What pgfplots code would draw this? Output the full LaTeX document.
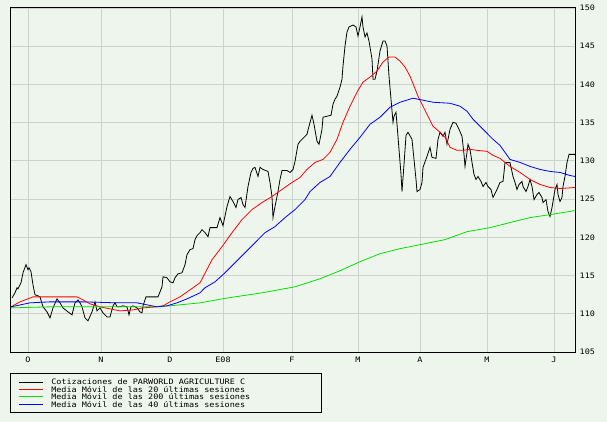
\documentclass[border=0pt]{standalone}
\usepackage{fontspec}
\usepackage{pgfplots}
\pgfplotsset{compat=1.18}
\newfontfamily\chartfont[FakeStretch=1.13]{DejaVu Sans Mono}
\definecolor{bgc}{RGB}{238,245,236}
\definecolor{gridc}{RGB}{206,210,206}
\definecolor{mared}{RGB}{255,0,0}
\definecolor{magreen}{RGB}{0,225,0}
\definecolor{mablue}{RGB}{0,0,255}

\begin{document}
\begin{tikzpicture}
\fill[bgc] (0,0) rectangle (607bp,422bp);
\useasboundingbox (0,0) rectangle (607bp,422bp);
\begin{axis}[
    at={(10bp,70bp)}, anchor=south west,
    scale only axis, width=565bp, height=344bp,
    xmin=10, xmax=575, ymin=105, ymax=150,
    font=\chartfont\fontsize{7.5bp}{8bp}\selectfont,
    /pgf/number format/assume math mode=true,
    axis line style={line width=1bp},
    major tick length=0pt,
    grid=major, major grid style={gridc, line width=0.8bp},
    xtick={28,101,170,223,292,358,420,487,554},
    xticklabels={O,N,D,E08,F,M,A,M,J},
    xticklabel style={anchor=base, inner sep=0pt, yshift=-10.7bp},
    ytick={105,110,...,150},
    yticklabel pos=right,
    yticklabel style={anchor=west, inner sep=0pt, xshift=4.5bp},
    legend style={at={(axis description cs:0,0)}, anchor=north west,
        yshift=-21bp, draw=black, line width=0.9bp, fill=none,
        inner xsep=8bp, inner ysep=5bp, row sep=0.87bp, column sep=8bp,
        nodes={inner sep=0pt, text height=6.3bp, text depth=0.3bp, anchor=base west},
        font=\chartfont\fontsize{7.5bp}{8bp}\selectfont},
    legend cell align=left,
    legend image code/.code={\draw[#1] (0bp,2.8bp) -- (24bp,2.8bp);},
]

% cotizacion
\addplot[black, line width=0.8bp] coordinates {
(12,112.08) (15,112.74) (17,113.40) (18,113.26) (21,114.05) (23,115.36)
(26,116.42) (28,115.76) (29,116.02) (31,115.50) (33,113.79) (35,112.48)
(38,112.35) (40,112.21) (43,110.91) (47,110.25) (50,109.46) (53,110.77)
(57,111.95) (60,111.43) (63,110.77) (68,110.25) (72,109.86) (75,111.43)
(78,111.82) (80,111.43) (82,110.91) (85,109.46) (88,109.07) (92,110.25)
(95,111.56) (97,110.38) (100,110.77) (103,110.12) (107,109.59) (110,109.59)
(113,111.04) (115,111.43) (117,110.91) (120,110.91) (123,111.04) (127,110.91)
(129,109.86) (131,110.91) (133,111.04) (137,110.77) (140,110.25) (142,110.12)
(143,111.04) (146,112.21) (150,112.21) (158,112.21) (162,113.53) (163,114.84)
(167,114.71) (170,114.18) (173,114.05) (175,114.71) (178,115.23) (182,115.36)
(185,116.42) (187,117.73) (190,118.39) (193,118.52) (195,119.70) (197,120.22)
(200,120.61) (202,121.01) (205,120.61) (208,120.09) (210,121.27) (217,121.27)
(220,122.58) (223,121.53) (227,124.03) (230,125.34) (233,124.68) (236,123.90)
(238,124.94) (241,125.21) (243,124.29) (245,123.90) (248,126.65) (251,128.49)
(253,129.02) (255,129.15) (258,127.96) (260,129.15) (263,128.88) (268,128.62)
(270,127.18) (272,125.34) (273,122.58) (275,124.03) (278,125.99) (280,127.57)
(282,128.75) (287,128.75) (290,128.49) (293,128.88) (295,129.93) (298,132.17)
(300,132.56) (302,132.82) (305,133.21) (307,133.48) (309,134.53) (312,135.97)
(314,134.79) (317,132.56) (319,132.17) (322,134.13) (323,135.71) (327,135.84)
(331,135.97) (333,137.41) (335,138.07) (337,138.46) (340,139.64) (342,140.69)
(343,142.40) (345,145.03) (347,146.86) (349,147.52) (353,147.78) (356,147.52)
(358,146.34) (360,147.52) (362,148.83) (363,147.52) (365,146.21) (367,146.73)
(369,145.68) (372,143.32) (373,140.69) (375,140.69) (377,141.75) (380,144.37)
(383,145.68) (385,145.68) (387,145.03) (389,141.09) (391,138.07) (393,135.05)
(394,135.84) (396,136.36) (397,134.79) (399,131.51) (401,128.23) (402,125.99)
(404,129.54) (406,133.34) (408,133.74) (412,132.82) (414,130.19) (416,127.57)
(417,125.99) (420,126.26) (422,127.18) (423,129.15) (427,130.59) (430,131.77)
(432,130.46) (436,130.33) (438,132.82) (440,133.74) (443,133.21) (445,133.74)
(447,132.17) (450,134.13) (453,135.05) (456,134.92) (459,134.13) (462,133.21)
(464,130.85) (465,129.28) (467,131.12) (468,132.17) (470,131.51) (472,129.80)
(474,128.23) (476,127.57) (478,127.96) (481,127.31) (483,126.65) (486,127.18)
(488,126.65) (491,126.26) (493,125.21) (497,126.26) (500,127.18) (503,127.31)
(504,128.49) (505,129.80) (507,129.80) (510,129.80) (513,127.96) (515,127.18)
(517,126.26) (519,126.92) (522,127.31) (523,126.65) (526,125.99) (528,126.65)
(530,127.57) (532,126.65) (534,124.94) (537,125.60) (539,125.86) (542,125.21)
(543,124.55) (546,124.94) (548,123.37) (550,122.72) (552,123.90) (553,124.68)
(555,126.26) (557,126.92) (558,125.60) (560,124.68) (562,125.21) (563,126.65)
(565,127.96) (567,129.80) (569,130.85) (575,130.85)
};
\addlegendentry{\makebox[262bp][l]{Cotizaciones de PARWORLD AGRICULTURE C}}

% media 20
\addplot[mared, line width=0.8bp] coordinates {
(11,110.91) (20,111.56) (33,112.21) (57,112.21) (77,112.21) (83,111.82)
(90,111.30) (100,110.91) (110,110.64) (120,110.38) (133,110.51) (143,110.77)
(157,110.91) (163,111.04) (170,111.56) (180,112.21) (190,113.13) (200,114.05)
(212,117.07) (222,118.78) (232,120.61) (242,122.32) (252,123.63) (262,124.55)
(272,125.34) (282,126.26) (292,127.18) (300,127.83) (307,128.88) (315,129.80)
(323,130.19) (330,131.12) (337,132.82) (343,135.05) (350,137.15) (357,138.99)
(363,140.30) (370,140.96) (377,141.75) (383,142.93) (389,143.58) (395,143.58)
(400,143.06) (405,142.27) (410,141.09) (418,138.46) (423,137.15) (428,135.84)
(433,134.53) (440,133.74) (445,133.08) (450,131.77) (457,131.38) (463,131.38)
(470,131.51) (477,131.38) (487,131.25) (493,130.72) (500,130.33) (510,129.28)
(520,128.49) (530,127.57) (540,126.92) (550,126.52) (560,126.39) (575,126.52)
};
\addlegendentry{Media Móvil de las 20 últimas sesiones}

% media 200
\addplot[magreen, line width=0.8bp] coordinates {
(11,110.77) (50,110.91) (100,110.91) (150,110.91) (170,111.04) (200,111.43)
(228,112.08) (262,112.74) (295,113.53) (320,114.58) (340,115.63) (360,116.81)
(380,117.86) (400,118.52) (420,119.04) (445,119.70) (467,120.74) (490,121.27)
(510,121.93) (530,122.58) (550,122.97) (575,123.50)
};
\addlegendentry{Media Móvil de las 200 últimas sesiones}

% media 40
\addplot[mablue, line width=0.8bp] coordinates {
(11,110.91) (30,111.43) (50,111.56) (83,111.56) (117,111.43) (137,111.43)
(147,111.17) (157,110.91) (167,111.04) (177,111.43) (187,111.95) (200,112.74)
(205,113.40) (215,114.18) (225,115.36) (235,116.68) (245,117.99) (255,119.30)
(265,120.61) (275,121.40) (285,122.58) (295,123.63) (305,124.94) (310,125.99)
(320,127.18) (330,127.96) (340,129.80) (350,131.51) (360,133.08) (370,134.79)
(380,135.71) (390,137.02) (400,137.67) (413,138.20) (423,137.94) (433,137.67)
(450,137.54) (460,137.15) (467,136.50) (473,135.45) (483,134.13) (493,132.82)
(500,132.03) (510,130.19) (520,129.80) (530,129.28) (540,128.88) (550,128.62)
(560,128.49) (570,128.09) (575,127.96)
};
\addlegendentry{Media Móvil de las 40 últimas sesiones}

\end{axis}
\end{tikzpicture}
\end{document}
